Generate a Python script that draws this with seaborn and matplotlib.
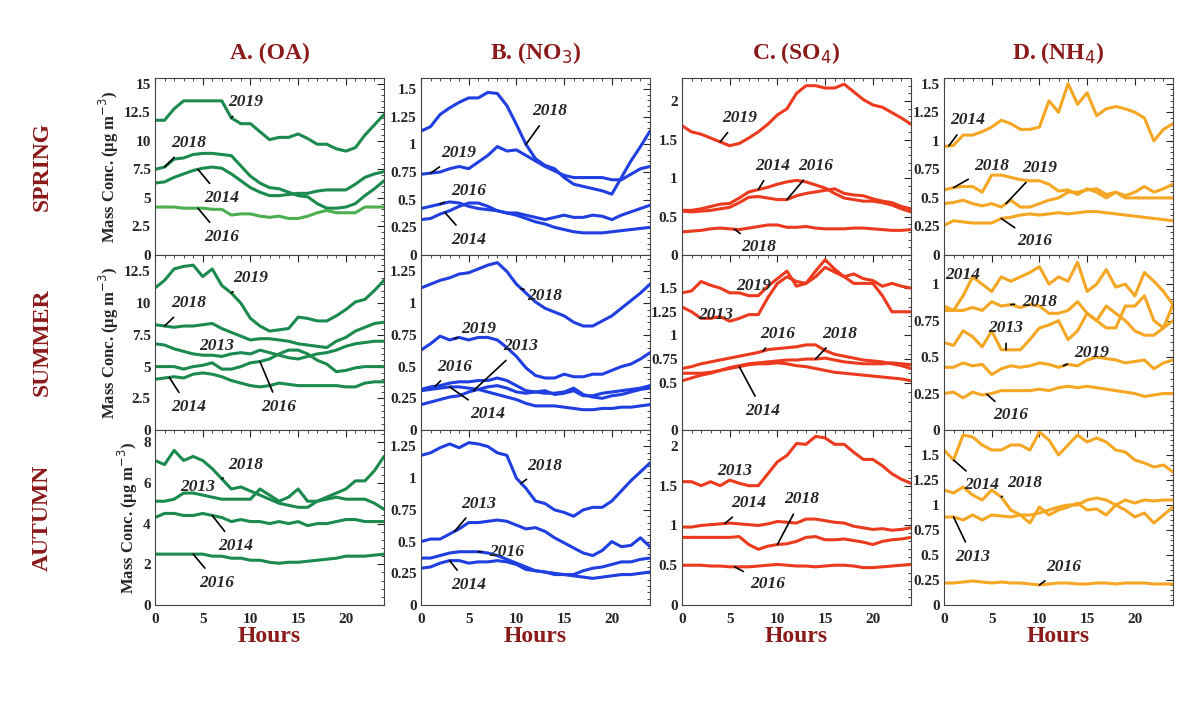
import numpy as np
import pandas as pd
import matplotlib
matplotlib.use("Agg")
import matplotlib.pyplot as plt
import seaborn as sns
from matplotlib.ticker import AutoMinorLocator

sns.set_style("white")
plt.rcParams['font.family'] = ['Liberation Serif', 'DejaVu Serif']

hours = np.arange(25)
species = ["A. (OA)", "B. (NO$_3$)", "C. (SO$_4$)", "D. (NH$_4$)"]
seasons = ["SPRING", "SUMMER", "AUTUMN"]
colors = ["#1b8a4e", "#1f3fe0", "#ec3a1e", "#f5a623"]

# ---- OA ----
oa_spring = {
    "2019": [11.8,11.8,12.8,13.5,13.5,13.5,13.5,13.5,12,11.5,11.5,10.8,10.1,10.3,10.3,10.6,10.2,9.7,9.7,9.3,9.1,9.4,10.5,11.4,12.3],
    "2018": [7.5,7.7,8.4,8.5,8.8,8.9,8.9,8.8,8.7,7.8,6.9,6.3,5.9,5.8,5.5,5.2,5.1,4.5,4.1,4.1,4.2,4.5,5.2,5.8,6.5],
    "2014": [6.3,6.4,6.8,7.1,7.4,7.6,7.7,7.6,7.1,6.5,5.9,5.5,5.2,5.2,5.3,5.4,5.4,5.6,5.7,5.7,5.7,6.2,6.8,7.1,7.3],
    "2016": [4.2,4.2,4.2,4.1,4.1,4.1,4.0,4.0,3.5,3.6,3.6,3.4,3.3,3.4,3.2,3.2,3.4,3.7,3.9,3.7,3.7,3.7,4.2,4.2,4.2],
}
oa_summer = {
    "2019": [11.2,11.8,12.7,12.9,13.0,12.1,12.7,11.4,10.8,10.0,8.8,8.2,7.8,7.9,8.0,8.9,8.8,8.6,8.6,9.0,9.5,10.1,10.3,11.0,11.8],
    "2018": [8.3,8.2,8.1,8.2,8.2,8.3,8.4,8.0,7.7,7.4,7.1,7.2,7.2,7.1,7.0,6.8,6.7,6.6,6.5,7.0,7.3,7.8,8.1,8.4,8.5],
    "2013": [6.8,6.7,6.4,6.2,6.0,5.9,5.9,5.8,6.0,6.1,6.0,6.3,6.1,5.9,5.7,5.6,5.8,6.0,6.1,6.3,6.6,6.8,6.9,7.0,7.0],
    "2016": [5.0,5.0,5.0,4.8,5.0,5.1,5.3,4.8,4.8,5.0,5.3,5.4,5.6,6.0,6.3,6.3,6.0,5.5,5.2,4.6,4.7,4.9,5.0,5.0,5.0],
    "2014": [4.0,4.1,4.2,4.1,4.4,4.5,4.4,4.2,3.9,3.7,3.5,3.4,3.5,3.7,3.6,3.5,3.5,3.5,3.5,3.5,3.4,3.4,3.7,3.8,3.8],
}
oa_autumn = {
    "2018": [7.1,6.9,7.6,7.1,7.3,7.1,6.7,6.2,5.7,5.8,5.6,5.4,5.2,5.0,4.9,4.8,4.8,5.1,5.3,5.5,5.7,6.1,6.1,6.6,7.3],
    "2013": [5.1,5.1,5.2,5.5,5.5,5.4,5.3,5.2,5.2,5.2,5.2,5.7,5.4,5.1,5.3,5.7,5.1,5.1,5.2,5.3,5.2,5.2,5.2,5.0,4.7],
    "2014": [4.3,4.5,4.5,4.4,4.4,4.5,4.4,4.3,4.1,4.2,4.1,4.1,4.0,4.1,4.0,4.1,3.9,4.0,4.0,4.1,4.2,4.2,4.1,4.1,4.1],
    "2016": [2.5,2.5,2.5,2.5,2.5,2.5,2.4,2.4,2.3,2.3,2.2,2.2,2.1,2.05,2.1,2.1,2.15,2.2,2.25,2.3,2.4,2.4,2.4,2.45,2.5],
}
# ---- NO3 ----
no3_spring = {
    "2018": [1.12,1.16,1.27,1.33,1.38,1.42,1.42,1.47,1.46,1.35,1.18,1.0,0.87,0.81,0.78,0.7,0.64,0.62,0.6,0.58,0.55,0.7,0.85,0.98,1.12],
    "2019": [0.73,0.74,0.75,0.78,0.8,0.78,0.84,0.9,0.98,0.94,0.95,0.9,0.85,0.8,0.76,0.72,0.7,0.7,0.7,0.7,0.68,0.68,0.73,0.78,0.8],
    "2016": [0.42,0.44,0.46,0.48,0.47,0.44,0.42,0.41,0.40,0.38,0.36,0.33,0.30,0.28,0.25,0.23,0.21,0.2,0.2,0.2,0.21,0.22,0.23,0.24,0.25],
    "2014": [0.32,0.33,0.37,0.4,0.44,0.47,0.47,0.44,0.4,0.38,0.38,0.36,0.34,0.32,0.34,0.36,0.34,0.34,0.36,0.35,0.32,0.36,0.39,0.42,0.45],
}
no3_summer = {
    "2018": [1.12,1.15,1.18,1.2,1.23,1.24,1.27,1.3,1.32,1.25,1.15,1.08,1.01,0.96,0.93,0.9,0.85,0.82,0.82,0.86,0.9,0.96,1.02,1.08,1.15],
    "2019": [0.63,0.68,0.74,0.71,0.73,0.71,0.73,0.73,0.71,0.65,0.58,0.49,0.43,0.41,0.41,0.44,0.42,0.42,0.44,0.44,0.47,0.5,0.52,0.56,0.61],
    "2013": [0.2,0.22,0.24,0.26,0.27,0.3,0.32,0.34,0.35,0.33,0.3,0.29,0.3,0.31,0.28,0.29,0.31,0.27,0.27,0.29,0.3,0.31,0.32,0.33,0.35],
    "2016": [0.32,0.34,0.35,0.37,0.38,0.38,0.39,0.39,0.41,0.39,0.35,0.31,0.3,0.29,0.29,0.3,0.33,0.28,0.26,0.25,0.27,0.28,0.3,0.32,0.33],
    "2014": [0.31,0.32,0.33,0.34,0.34,0.33,0.32,0.3,0.28,0.26,0.24,0.21,0.19,0.19,0.19,0.18,0.17,0.16,0.16,0.17,0.17,0.18,0.18,0.19,0.2],
}
no3_autumn = {
    "2018": [1.18,1.2,1.24,1.27,1.24,1.28,1.27,1.25,1.2,1.18,1.0,0.92,0.82,0.8,0.75,0.73,0.7,0.75,0.77,0.77,0.82,0.9,0.98,1.05,1.12],
    "2013": [0.5,0.52,0.52,0.56,0.6,0.65,0.65,0.66,0.67,0.66,0.63,0.6,0.61,0.58,0.53,0.49,0.45,0.41,0.39,0.43,0.5,0.46,0.47,0.53,0.46],
    "2016": [0.37,0.37,0.39,0.41,0.42,0.42,0.42,0.41,0.39,0.36,0.33,0.3,0.27,0.26,0.25,0.24,0.24,0.27,0.29,0.3,0.32,0.34,0.34,0.36,0.37],
    "2014": [0.29,0.3,0.33,0.35,0.35,0.33,0.34,0.34,0.35,0.34,0.32,0.28,0.27,0.26,0.24,0.24,0.23,0.22,0.21,0.22,0.23,0.24,0.24,0.25,0.26],
}
# ---- SO4 ----
so4_spring = {
    "2019": [1.68,1.6,1.57,1.52,1.47,1.42,1.45,1.52,1.6,1.7,1.82,1.9,2.1,2.2,2.2,2.17,2.17,2.22,2.12,2.02,1.95,1.92,1.85,1.78,1.7],
    "2014": [0.58,0.58,0.6,0.63,0.66,0.67,0.74,0.82,0.85,0.88,0.92,0.95,0.97,0.95,0.91,0.87,0.8,0.74,0.72,0.7,0.7,0.68,0.65,0.6,0.56],
    "2016": [0.57,0.56,0.57,0.58,0.6,0.62,0.68,0.75,0.76,0.74,0.72,0.72,0.77,0.8,0.82,0.84,0.86,0.8,0.78,0.77,0.73,0.7,0.68,0.63,0.6],
    "2018": [0.3,0.31,0.32,0.34,0.35,0.34,0.33,0.35,0.37,0.39,0.39,0.36,0.36,0.37,0.35,0.34,0.34,0.34,0.35,0.35,0.34,0.33,0.32,0.32,0.33],
}
so4_summer = {
    "2019": [1.45,1.47,1.57,1.53,1.5,1.45,1.45,1.42,1.42,1.52,1.6,1.68,1.52,1.55,1.62,1.72,1.67,1.62,1.65,1.6,1.58,1.52,1.55,1.52,1.5],
    "2013": [1.3,1.25,1.18,1.18,1.2,1.15,1.18,1.22,1.22,1.4,1.55,1.62,1.57,1.55,1.68,1.8,1.7,1.62,1.55,1.55,1.55,1.42,1.25,1.25,1.25],
    "2016": [0.65,0.67,0.7,0.72,0.74,0.76,0.78,0.8,0.82,0.85,0.86,0.87,0.88,0.9,0.9,0.84,0.8,0.78,0.76,0.74,0.73,0.72,0.7,0.68,0.65],
    "2018": [0.6,0.6,0.6,0.61,0.63,0.66,0.68,0.7,0.71,0.72,0.73,0.74,0.74,0.75,0.75,0.76,0.74,0.72,0.71,0.7,0.7,0.7,0.71,0.7,0.69],
    "2014": [0.52,0.55,0.58,0.6,0.63,0.65,0.67,0.69,0.7,0.7,0.71,0.7,0.68,0.67,0.65,0.63,0.61,0.6,0.59,0.58,0.57,0.56,0.55,0.54,0.52],
}
so4_autumn = {
    "2013": [1.55,1.55,1.5,1.55,1.5,1.57,1.53,1.5,1.5,1.65,1.8,1.88,2.03,2.02,2.12,2.1,2.02,2.02,1.92,1.83,1.83,1.75,1.65,1.58,1.53],
    "2014": [0.98,0.98,1.0,1.01,1.02,1.03,1.02,1.01,1.0,1.02,1.05,1.04,1.03,1.08,1.08,1.06,1.04,1.03,0.99,0.97,0.95,0.96,0.94,0.95,0.97],
    "2018": [0.85,0.85,0.85,0.85,0.85,0.85,0.86,0.76,0.7,0.74,0.76,0.77,0.8,0.85,0.86,0.82,0.82,0.83,0.81,0.79,0.76,0.8,0.82,0.83,0.85],
    "2016": [0.5,0.5,0.5,0.49,0.49,0.48,0.48,0.48,0.49,0.5,0.51,0.5,0.49,0.49,0.48,0.49,0.5,0.5,0.49,0.47,0.47,0.48,0.49,0.5,0.51],
}
# ---- NH4 ----
nh4_spring = {
    "2014": [0.95,0.96,1.05,1.05,1.08,1.12,1.18,1.15,1.1,1.1,1.12,1.35,1.25,1.5,1.32,1.42,1.22,1.28,1.3,1.28,1.25,1.2,1.0,1.1,1.15],
    "2018": [0.57,0.59,0.6,0.6,0.55,0.7,0.7,0.68,0.66,0.65,0.65,0.62,0.56,0.57,0.53,0.58,0.55,0.5,0.55,0.52,0.55,0.6,0.55,0.58,0.62],
    "2019": [0.45,0.46,0.48,0.45,0.43,0.45,0.42,0.48,0.42,0.42,0.45,0.48,0.5,0.55,0.55,0.57,0.58,0.53,0.55,0.5,0.5,0.5,0.5,0.5,0.5],
    "2016": [0.26,0.3,0.29,0.28,0.28,0.28,0.32,0.33,0.35,0.36,0.35,0.36,0.37,0.36,0.37,0.38,0.38,0.37,0.36,0.35,0.34,0.33,0.32,0.31,0.3],
}
nh4_summer = {
    "2014": [0.85,0.82,0.92,1.05,1.0,0.95,1.05,1.02,1.05,1.08,1.12,1.0,1.05,1.02,1.15,0.95,1.0,1.1,0.98,1.0,0.92,1.08,1.02,0.95,0.86],
    "2018": [0.82,0.82,0.82,0.84,0.82,0.88,0.85,0.86,0.84,0.86,0.85,0.8,0.8,0.82,0.88,0.8,0.75,0.7,0.7,0.85,0.85,0.92,0.75,0.7,0.75],
    "2013": [0.6,0.58,0.68,0.64,0.57,0.68,0.55,0.55,0.55,0.62,0.7,0.72,0.75,0.62,0.68,0.8,0.75,0.85,0.8,0.75,0.68,0.65,0.65,0.7,0.86],
    "2019": [0.43,0.43,0.46,0.44,0.45,0.38,0.42,0.44,0.43,0.44,0.46,0.45,0.43,0.45,0.44,0.48,0.5,0.49,0.48,0.46,0.47,0.48,0.42,0.46,0.48],
    "2016": [0.25,0.26,0.22,0.26,0.24,0.25,0.27,0.27,0.27,0.27,0.28,0.27,0.29,0.3,0.29,0.3,0.29,0.28,0.27,0.26,0.25,0.23,0.24,0.25,0.25],
}
nh4_autumn = {
    "2014": [1.55,1.45,1.7,1.68,1.6,1.55,1.55,1.6,1.6,1.55,1.73,1.65,1.5,1.6,1.7,1.63,1.67,1.63,1.55,1.53,1.45,1.42,1.38,1.4,1.33],
    "2018": [1.15,1.12,1.18,1.1,1.05,1.15,1.08,0.95,0.9,0.82,0.98,0.9,0.95,0.98,1.02,0.95,0.96,0.9,1.0,0.95,0.88,0.92,0.82,0.9,0.98],
    "2013": [0.88,0.88,0.85,0.9,0.85,0.9,0.89,0.88,0.9,0.9,0.92,0.95,0.98,1.0,1.0,1.05,1.07,1.05,1.0,1.05,1.02,1.05,1.04,1.05,1.05],
    "2016": [0.22,0.22,0.23,0.24,0.23,0.22,0.23,0.22,0.22,0.21,0.2,0.21,0.22,0.22,0.21,0.21,0.22,0.22,0.21,0.22,0.22,0.22,0.21,0.21,0.21],
}

panels = [
    [oa_spring, no3_spring, so4_spring, nh4_spring],
    [oa_summer, no3_summer, so4_summer, nh4_summer],
    [oa_autumn, no3_autumn, so4_autumn, nh4_autumn],
]
ytops = [[15.5, 1.6, 2.3, 1.55], [13.8, 1.38, 1.85, 1.2], [8.6, 1.38, 2.2, 1.75]]
yticks = [
    [np.arange(0, 15.1, 2.5), np.arange(0, 1.51, 0.25), np.arange(0, 2.1, 0.5), np.arange(0, 1.51, 0.25)],
    [np.arange(0, 12.6, 2.5), np.arange(0, 1.26, 0.25), [0, 0.5, 0.75, 1, 1.25, 1.5], np.arange(0, 1.01, 0.25)],
    [np.arange(0, 8.1, 2), np.arange(0, 1.26, 0.25), np.arange(0, 2.1, 0.5), np.arange(0, 1.51, 0.25)],
]

# label annotations: (year, hour on line or None, text x, text y)
labels = [
    [[("2019", 8, 9.5, 13.4), ("2018", 1, 3.5, 9.8), ("2014", 4.5, 7, 5.0), ("2016", 4.5, 7, 1.6)],
     [("2018", 11, 13.5, 1.3), ("2019", 1, 4, 0.92), ("2016", 2, 5, 0.58), ("2014", 2.5, 5, 0.14)],
     [("2019", 4, 6, 1.78), ("2014", 8, 9.5, 1.16), ("2016", 11, 14, 1.16), ("2018", 5.5, 8, 0.1)],
     [("2014", 0.5, 2.5, 1.18), ("2018", 1, 5, 0.78), ("2019", 6.5, 10, 0.76), ("2016", 6, 9.5, 0.12)]],
    [[("2019", 8, 10, 12.0), ("2018", 1, 3.5, 10.0), ("2013", None, 6.5, 6.6), ("2016", 11, 13, 1.8), ("2014", 1.5, 3.5, 1.8)],
     [("2018", 10.5, 13, 1.06), ("2019", 3.5, 6, 0.8), ("2013", 5.5, 10.5, 0.66), ("2016", 1.5, 3.5, 0.5), ("2014", 3, 7, 0.13)],
     [("2019", None, 7.5, 1.52), ("2013", None, 3.5, 1.22), ("2016", 8.5, 10, 1.02), ("2018", 14, 16.5, 1.02), ("2014", 6, 8.5, 0.2)],
     [("2014", None, 2, 1.06), ("2018", 7, 10, 0.88), ("2013", 6.5, 6.5, 0.7), ("2019", 12.5, 15.5, 0.53), ("2016", 4.5, 7, 0.1)]],
    [[("2018", 7, 9.5, 6.9), ("2013", None, 4.5, 5.8), ("2014", 6, 8.5, 2.9), ("2016", 4, 6.5, 1.1)],
     [("2018", 10.5, 13, 1.1), ("2013", 3.5, 6, 0.8), ("2016", 6, 9, 0.42), ("2014", 3, 5, 0.16)],
     [("2013", None, 5.5, 1.68), ("2014", 4.5, 7, 1.28), ("2018", 10, 12.5, 1.33), ("2016", 5.5, 9, 0.26)],
     [("2014", 1, 4, 1.2), ("2018", 6, 8.5, 1.22), ("2013", 1, 3, 0.48), ("2016", 10, 12.5, 0.38)]],
]

fig = plt.figure(figsize=(12.01, 7.14), dpi=100)
W, H = 1201, 714
lefts = [155, 421, 682, 944]
width = 229
rows = [(78, 255), (255, 430), (430, 605)]
dark_red = "#8b1a1a"
tick_font = dict(fontsize=11, fontweight="bold", fontstretch="condensed")

for r in range(3):
    top, bot = rows[r]
    for c in range(4):
        ax = fig.add_axes([lefts[c] / W, 1 - bot / H, width / W, (bot - top) / H])
        for year, vals in panels[r][c].items():
            col = "#4caf4f" if (r == 0 and c == 0 and year == "2016") else colors[c]
            sns.lineplot(x=hours, y=vals, color=col, lw=2.2, ax=ax)
        for year, hx, tx, ty in labels[r][c]:
            kw = dict(fontsize=12.5, fontstyle="italic", fontweight="bold", ha="center", va="center",
                      fontfamily="Liberation Serif")
            if hx is None:
                ax.text(tx, ty, year, **kw)
            else:
                hy = np.interp(hx, hours, panels[r][c][year])
                ax.annotate(year, xy=(hx, hy), xytext=(tx, ty),
                            arrowprops=dict(arrowstyle="-", color="black", lw=1.2,
                                            shrinkA=3, shrinkB=0), **kw)
        ax.set_xlim(0, 24)
        ax.set_ylim(0, ytops[r][c])
        ax.set_yticks(yticks[r][c])
        ax.set_yticklabels([f"{v:g}" for v in yticks[r][c]], **tick_font)
        ax.set_xticks([0, 5, 10, 15, 20])
        ax.xaxis.set_minor_locator(AutoMinorLocator(5))
        ax.yaxis.set_minor_locator(AutoMinorLocator(5))
        ax.tick_params(which="both", direction="in", top=True, right=True)
        ax.tick_params(which="major", length=5, pad=3)
        ax.tick_params(which="minor", length=2.5)
        ax.set_xlabel("")
        ax.set_ylabel("")
        for s in ax.spines.values():
            s.set_color("#444444")
        if r == 2:
            ax.set_xticklabels(["0", "5", "10", "15", "20"], **tick_font)
            ax.tick_params(axis="x", pad=6)
            ax.set_xlabel("Hours", fontsize=17, fontweight="bold", color=dark_red, labelpad=0)
        else:
            ax.set_xticklabels([])
        if r == 0:
            ax.set_title(species[c], fontsize=17, fontweight="bold", color=dark_red, pad=14)
        if c == 0:
            ax.set_ylabel("Mass Conc. (μg m$^{-3}$)", fontsize=12, fontweight="bold", labelpad=2)
            fig.text(42 / W, 1 - (top + bot) / 2 / H, seasons[r], rotation=90, fontsize=17,
                     fontweight="bold", color=dark_red, ha="center", va="center")

fig.savefig("out.png", dpi=100)
